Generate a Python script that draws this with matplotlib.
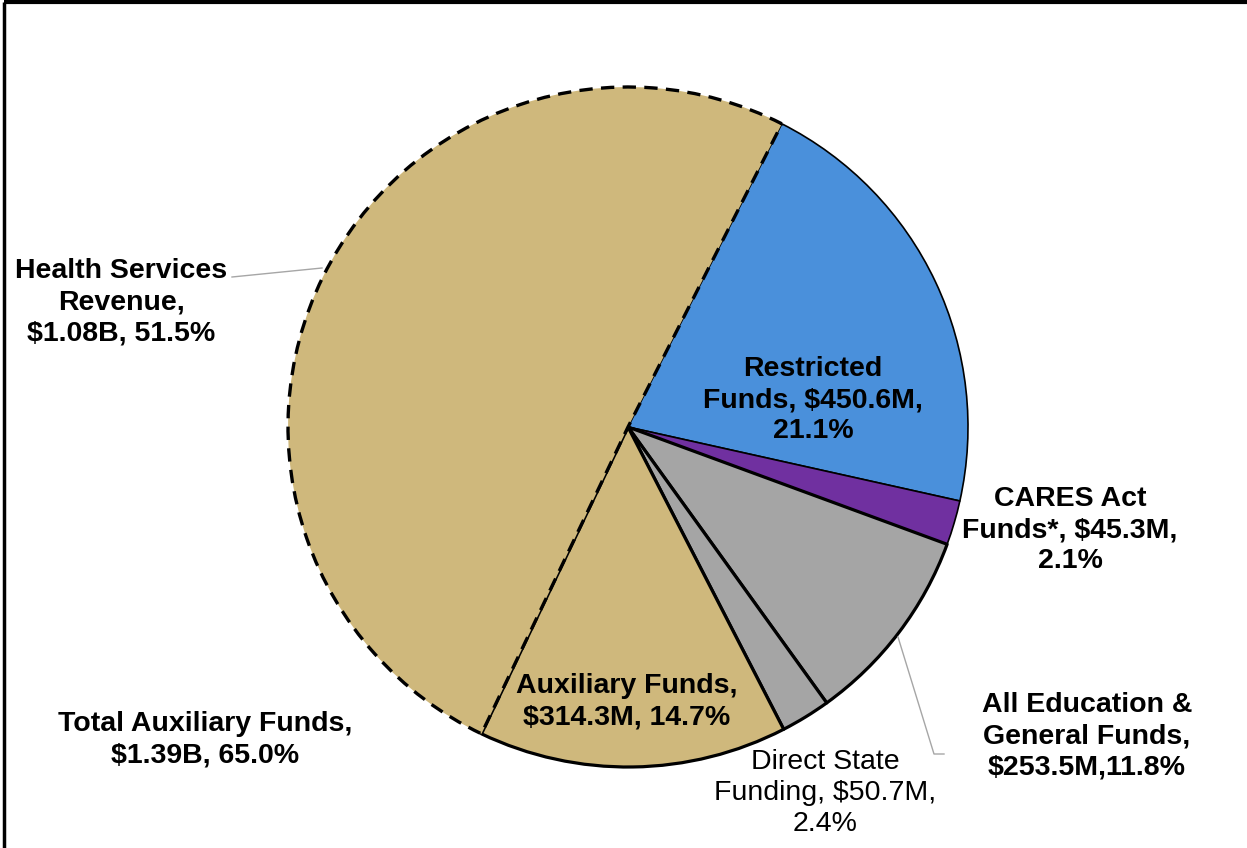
import matplotlib.pyplot as plt

plt.rcParams['font.family'] = ['Liberation Sans', 'DejaVu Sans']

# slice data in $M, clockwise from the Restricted Funds slice
slice_names = ["Restricted Funds", "CARES Act Funds", "Other E&G Funds",
               "Direct State Funding", "Auxiliary Funds", "Health Services Revenue"]
restricted = 450.6
cares = 45.3
all_eg = 253.5          # includes direct state funding
direct_state = 50.7
auxiliary = 314.3
health = 1080.0
values = [restricted, cares, all_eg - direct_state, direct_state, auxiliary, health]

colors = ["#4A90DB", "#7030A0", "#A5A5A5", "#A5A5A5", "#CFB87C", "#CFB87C"]
edge_widths = [1.2, 1.2, 2.3, 2.3, 2.3, 2.4]

labels = [
    ("Health Services\nRevenue,\n$1.08B, 51.5%", 121, 302, "bold"),
    ("Restricted\nFunds, $450.6M,\n21.1%", 813, 400, "bold"),
    ("CARES Act\nFunds*, $45.3M,\n2.1%", 1070, 530, "bold"),
    ("All Education &\nGeneral Funds,\n$253.5M,11.8%", 1087, 736, "bold"),
    ("Direct State\nFunding, $50.7M,\n2.4%", 825, 793, "normal"),
    ("Auxiliary Funds,\n$314.3M, 14.7%", 627, 702, "bold"),
    ("Total Auxiliary Funds,\n$1.39B, 65.0%", 205, 740, "bold"),
]

W, H = 1247, 848
fig = plt.figure(figsize=(W / 100, H / 100), dpi=100)
ax = fig.add_axes([0, 0, 1, 1])

cx, cy, r = 628, H - 427, 340
wedges, _ = ax.pie(values, colors=colors, startangle=63.1, counterclock=False,
                   center=(cx, cy), radius=r, frame=True,
                   wedgeprops=dict(edgecolor="black"))
ax.set_xlim(0, W)
ax.set_ylim(0, H)
ax.axis("off")
for w, lw in zip(wedges, edge_widths):
    w.set_linewidth(lw)
    w.set_joinstyle("round")
# health services wedge gets a dashed outline
wedges[-1].set_linestyle((0, (4, 2.5)))
wedges[-1].set_zorder(3)

# leader lines
ax.plot([232, 322], [H - 277, H - 268], color="#A6A6A6", lw=1.0)
ax.plot([898, 934, 944], [H - 637, H - 754, H - 754], color="#A6A6A6", lw=1.0)

for text, x, y, weight in labels:
    ax.text(x, H - y, text, ha="center", va="center", fontsize=20.5,
            fontweight=weight, linespacing=1.27, color="black", zorder=5)

# partial frame: top and left edges
ax.plot([4, W], [H - 2, H - 2], color="black", lw=3, solid_capstyle="butt", clip_on=False)
ax.plot([4, 4], [0, H - 2], color="black", lw=2.5, solid_capstyle="butt", clip_on=False)

fig.savefig("out.png", dpi=100)
